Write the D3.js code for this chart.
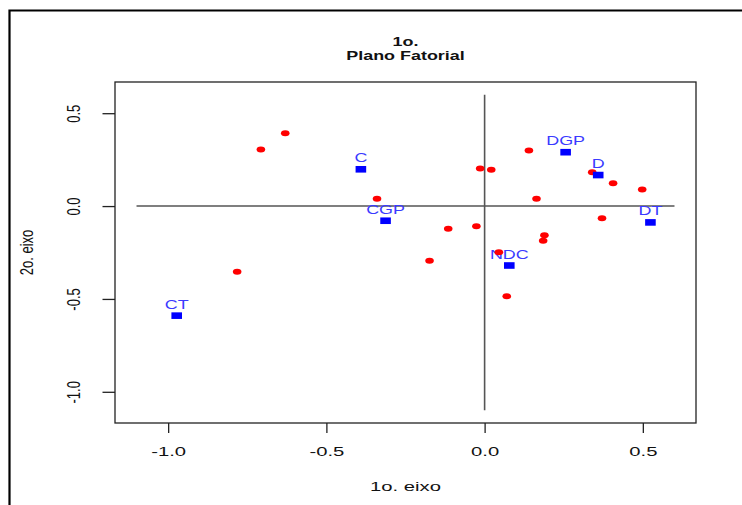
<!DOCTYPE html>
<html>
<head>
<meta charset="utf-8">
<script src="https://cdn.jsdelivr.net/npm/d3@7"></script>
<style>
  html, body { margin: 0; padding: 0; background: #fff; }
  svg { display: block; }
  text { font-family: "Liberation Sans", Arial, sans-serif; }
</style>
</head>
<body>
<svg id="chart" width="742" height="505"></svg>
<script>
// ---- data ----
const titleLines = ["1o.", "Plano Fatorial"];
const xLabel = "1o. eixo";
const yLabel = "2o. eixo";
const axisLimits = [-1.1, 0.6];
const tickValues = [-1.0, -0.5, 0.0, 0.5];

// individuals (red)
const redX = [-0.707, -0.630, -0.340, -0.782, -0.174, -0.115, 0.140, -0.014, 0.021, 0.340,
               0.406, 0.498, 0.164, 0.371, -0.026, 0.189, 0.185, 0.045, 0.070];
const redY = [0.304, 0.392, 0.040, -0.354, -0.295, -0.122, 0.299, 0.202, 0.196, 0.182,
              0.123, 0.089, 0.040, -0.065, -0.108, -0.157, -0.187, -0.248, -0.486];

// categories (blue)
const catLabels = ["C", "CGP", "CT", "DGP", "D", "DT", "NDC"];
const catX = [-0.391, -0.313, -0.973, 0.256, 0.359, 0.524, 0.078];
const catY = [0.198, -0.079, -0.590, 0.290, 0.167, -0.088, -0.320];

// ---- layout ----
const svg = d3.select("#chart");
const box = { left: 115, right: 696, top: 82, bottom: 423 };
const ext = (axisLimits[1] - axisLimits[0]) * 0.04;
const domain = [axisLimits[0] - ext, axisLimits[1] + ext];
const x = d3.scaleLinear().domain(domain).range([box.left, box.right]);
const y = d3.scaleLinear().domain(domain).range([box.bottom, box.top]);
const SX = 1.45; // horizontal text stretch of the original image

// outer frame (clipped by the image on right/bottom)
svg.append("path")
  .attr("d", "M9.5,520 L9.5,10.5 L760,10.5")
  .attr("fill", "none").attr("stroke", "#000").attr("stroke-width", 2.2);

// title
svg.append("text")
  .attr("transform", `translate(${(box.left + box.right) / 2},46) scale(1.38,1)`)
  .attr("text-anchor", "middle").attr("font-weight", "bold").attr("font-size", 13)
  .attr("fill", "#111").text(titleLines[0]);
svg.append("text")
  .attr("transform", `translate(${(box.left + box.right) / 2},59.5) scale(1.38,1)`)
  .attr("text-anchor", "middle").attr("font-weight", "bold").attr("font-size", 13)
  .attr("fill", "#111").text(titleLines[1]);

// reference lines at 0
svg.append("line")
  .attr("x1", x(axisLimits[0])).attr("x2", x(axisLimits[1]))
  .attr("y1", y(0)).attr("y2", y(0))
  .attr("stroke", "#555").attr("stroke-width", 1.6);
svg.append("line")
  .attr("x1", x(0)).attr("x2", x(0))
  .attr("y1", y(axisLimits[0])).attr("y2", y(axisLimits[1]))
  .attr("stroke", "#555").attr("stroke-width", 1.6);

// axes
const fmt = d => d.toFixed(1);
const gx = svg.append("g")
  .attr("transform", `translate(0,${box.bottom})`)
  .call(d3.axisBottom(x).tickValues(tickValues).tickFormat(fmt).tickSize(10).tickSizeOuter(0));
gx.select(".domain").remove();
gx.selectAll(".tick line").attr("stroke", "#222").attr("stroke-width", 1.3);
gx.selectAll(".tick text")
  .attr("y", null).attr("dy", null)
  .attr("transform", `translate(0,33) scale(${SX + 0.05},1)`)
  .attr("font-size", 13.5).attr("fill", "#111")
  .attr("font-family", '"Liberation Sans", Arial, sans-serif');

const gy = svg.append("g")
  .attr("transform", `translate(${box.left},0)`)
  .call(d3.axisLeft(y).tickValues(tickValues).tickFormat(fmt).tickSize(12.5).tickSizeOuter(0));
gy.select(".domain").remove();
gy.selectAll(".tick line").attr("stroke", "#222").attr("stroke-width", 1.3);
gy.selectAll(".tick text")
  .attr("x", null).attr("dy", null)
  .attr("text-anchor", "middle")
  .attr("transform", `translate(-35,0) scale(${SX},1) rotate(-90)`)
  .attr("font-size", 13).attr("fill", "#111")
  .attr("font-family", '"Liberation Sans", Arial, sans-serif');

// plot box
svg.append("rect")
  .attr("x", box.left).attr("y", box.top)
  .attr("width", box.right - box.left).attr("height", box.bottom - box.top)
  .attr("fill", "none").attr("stroke", "#222").attr("stroke-width", 1.3);

// axis titles
svg.append("text")
  .attr("transform", `translate(${(box.left + box.right) / 2},491) scale(${SX + 0.05},1)`)
  .attr("text-anchor", "middle").attr("font-size", 13.5).attr("fill", "#111")
  .text(xLabel);
svg.append("text")
  .attr("transform", `translate(33,${(box.top + box.bottom) / 2}) scale(${SX},1) rotate(-90)`)
  .attr("text-anchor", "middle").attr("font-size", 13).attr("fill", "#111")
  .text(yLabel);

// category labels
const cats = catLabels.map((l, i) => ({ label: l, x: catX[i], y: catY[i] }));
svg.append("g").selectAll("text").data(cats).join("text")
  .attr("transform", d => `translate(${x(d.x)},${y(d.y) - 7}) scale(1.38,1)`)
  .attr("text-anchor", "middle").attr("font-size", 13).attr("fill", "#3a3aff")
  .text(d => d.label);

// red points
const reds = redX.map((v, i) => ({ x: v, y: redY[i] }));
svg.append("g").selectAll("ellipse").data(reds).join("ellipse")
  .attr("cx", d => x(d.x)).attr("cy", d => y(d.y))
  .attr("rx", 4.3).attr("ry", 3)
  .attr("fill", "#ff0000");

// blue squares
svg.append("g").selectAll("rect").data(cats).join("rect")
  .attr("x", d => x(d.x) - 5.3).attr("y", d => y(d.y) - 3.3)
  .attr("width", 10.6).attr("height", 6.6)
  .attr("fill", "#0000ff");
</script>
</body>
</html>
